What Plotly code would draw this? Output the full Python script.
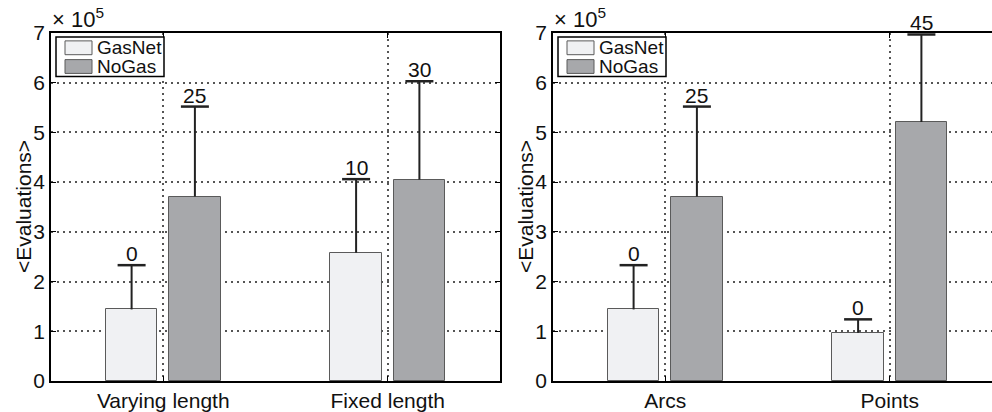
import plotly.graph_objects as go

# Mean number of evaluations (units of 1e5) and upper spread, per problem
left_categories = ["Varying length", "Fixed length"]
left_gasnet_mean = [1.44, 2.58]
left_gasnet_err = [0.89, 1.48]
left_nogas_mean = [3.71, 4.05]
left_nogas_err = [1.81, 1.98]
left_gasnet_fail = ["0", "10"]
left_nogas_fail = ["25", "30"]

right_categories = ["Arcs", "Points"]
right_gasnet_mean = [1.44, 0.97]
right_gasnet_err = [0.89, 0.27]
right_nogas_mean = [3.71, 5.21]
right_nogas_err = [1.81, 1.76]
right_gasnet_fail = ["0", "0"]
right_nogas_fail = ["25", "45"]

y_ticks = [0, 1, 2, 3, 4, 5, 6, 7]

GASNET_COLOR = "#f0f1f3"
NOGAS_COLOR = "#a7a8ab"
EDGE = "#5a5a5a"
ERR = "#222222"
FONT = "Liberation Sans, Arial, Helvetica, sans-serif"

W, H = 992, 412
ML, MR, MT, MB = 51, 0, 33, 26
plot_w = W - ML - MR
plot_h = H - MT - MB
panel_w = 449
gap = 53
OFF = 0.141
BAR_W = 0.23

fig = go.Figure()


def add_panel(cats, g_mean, g_err, n_mean, n_err, g_fail, n_fail, xa, ya):
    idx = list(range(1, len(cats) + 1))
    for mean, err, fail, off, color, name in (
        (g_mean, g_err, g_fail, -OFF, GASNET_COLOR, "GasNet"),
        (n_mean, n_err, n_fail, OFF, NOGAS_COLOR, "NoGas"),
    ):
        xs = [i + off for i in idx]
        tops = [m + e for m, e in zip(mean, err)]
        fig.add_trace(go.Bar(
            x=xs, y=mean, width=BAR_W, name=name, showlegend=False,
            marker=dict(color=color, line=dict(color=EDGE, width=1)),
            error_y=dict(type="data", symmetric=False, array=err,
                         arrayminus=[0] * len(err), width=0,
                         thickness=2, color=ERR),
            xaxis=xa, yaxis=ya,
        ))
        # caps on the upper whisker
        fig.add_trace(go.Scatter(
            x=xs, y=tops, mode="markers", showlegend=False, hoverinfo="skip",
            marker=dict(symbol="line-ew", size=20,
                        line=dict(color=ERR, width=2.5)),
            xaxis=xa, yaxis=ya,
        ))
        for x, t, lbl in zip(xs, tops, fail):
            fig.add_annotation(
                x=x, y=t, xref=xa, yref=ya, text=lbl, showarrow=False,
                yanchor="bottom", yshift=-2,
                font=dict(family=FONT, size=21, color="#111"),
            )


add_panel(left_categories, left_gasnet_mean, left_gasnet_err,
          left_nogas_mean, left_nogas_err, left_gasnet_fail, left_nogas_fail,
          "x", "y")
add_panel(right_categories, right_gasnet_mean, right_gasnet_err,
          right_nogas_mean, right_nogas_err, right_gasnet_fail,
          right_nogas_fail, "x2", "y2")

right_vis_w = plot_w - panel_w - gap
x_unit = panel_w / 2.0

axis_common = dict(
    showline=True, linecolor="black", linewidth=1.5,
    ticks="inside", ticklen=5, tickwidth=1, tickcolor="black",
    showgrid=True, gridcolor="#555555", gridwidth=1.5,
    griddash="1.5px,4.5px",
    zeroline=False, tickfont=dict(family=FONT, size=21, color="#111"),
)

fig.update_layout(
    width=W, height=H,
    margin=dict(l=ML, r=MR, t=MT, b=MB, pad=0),
    paper_bgcolor="white", plot_bgcolor="white",
    barmode="overlay", bargap=0,
    font=dict(family=FONT, color="#111"),
    xaxis=dict(domain=[0, panel_w / plot_w], range=[0.5, 2.5],
               tickvals=[1, 2], ticktext=left_categories, mirror="ticks",
               anchor="y", **axis_common),
    yaxis=dict(domain=[0, 1], range=[0, 7], tickvals=y_ticks,
               mirror="ticks", anchor="x", **axis_common),
    xaxis2=dict(domain=[(panel_w + gap) / plot_w, 1],
                range=[0.5, 0.5 + right_vis_w / x_unit],
                tickvals=[1, 2], ticktext=right_categories, mirror="ticks",
                anchor="y2", **axis_common),
    yaxis2=dict(domain=[0, 1], range=[0, 7], tickvals=y_ticks,
                mirror=False, anchor="x2", **axis_common),
)


def add_frame_text(xref, yref, width_px):
    # axis title and exponent
    fig.add_annotation(
        xref=f"{xref} domain", yref=f"{yref} domain", x=0, y=0.5,
        xshift=-28, text="&lt;Evaluations&gt;", textangle=-90,
        showarrow=False, xanchor="center", yanchor="middle",
        font=dict(family=FONT, size=21, color="#111"),
    )
    fig.add_annotation(
        xref=f"{xref} domain", yref=f"{yref} domain", x=0, y=1,
        xshift=-1, yshift=-1, text="× 10<sup>5</sup>", showarrow=False,
        xanchor="left", yanchor="bottom",
        font=dict(family=FONT, size=22, color="#111"),
    )
    # legend box with swatches
    fx = lambda px: px / width_px
    fy = lambda py: 1 - py / plot_h
    fig.add_shape(type="rect", xref=f"{xref} domain", yref=f"{yref} domain",
                  x0=fx(5), x1=fx(113), y0=fy(44), y1=fy(4),
                  line=dict(color="black", width=1.5), fillcolor="white")
    for (y0, y1, color, name) in ((8, 22, GASNET_COLOR, "GasNet"),
                                  (27, 41, NOGAS_COLOR, "NoGas")):
        fig.add_shape(type="rect", xref=f"{xref} domain",
                      yref=f"{yref} domain",
                      x0=fx(14), x1=fx(41), y0=fy(y1), y1=fy(y0),
                      line=dict(color=EDGE, width=1), fillcolor=color)
        fig.add_annotation(
            xref=f"{xref} domain", yref=f"{yref} domain",
            x=fx(44), y=fy((y0 + y1) / 2), text=name, showarrow=False,
            xanchor="left", yanchor="middle",
            font=dict(family=FONT, size=19, color="#111"),
        )


add_frame_text("x", "y", panel_w)
add_frame_text("x2", "y2", right_vis_w)

fig.write_html("out.html")
